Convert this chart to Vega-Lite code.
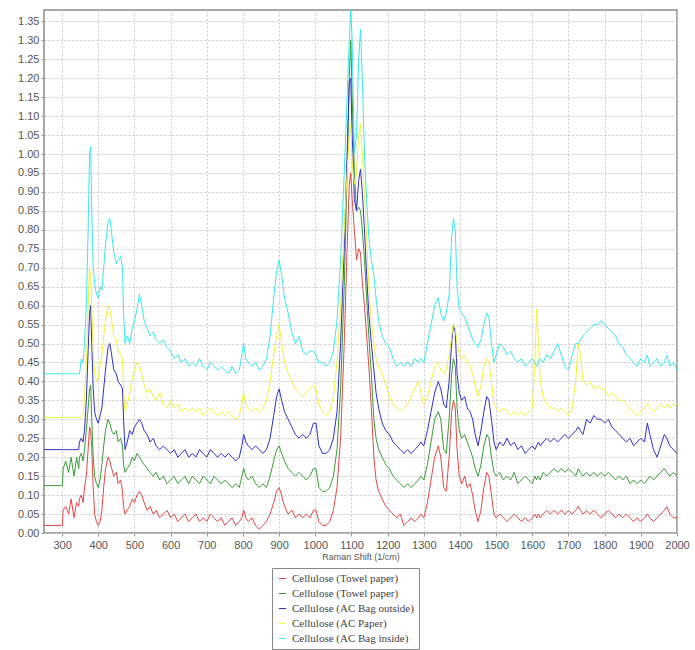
{
  "$schema": "https://vega.github.io/schema/vega-lite/v6.json",
  "width": 633,
  "height": 523,
  "padding": {"left": 17, "top": 10, "right": 10, "bottom": 0},
  "background": "white",
  "config": {
    "view": {"stroke": "#8a8a8a", "strokeWidth": 1.5},
    "axis": {"labelFont": "Liberation Sans", "labelFontSize": 11, "labelColor": "#555", "domain": false, "tickColor": "#999", "tickSize": 3, "gridColor": "#c8c8c8", "gridDash": [2, 2], "gridWidth": 1, "titleFont": "Liberation Sans", "titleFontWeight": "normal", "titleColor": "#555", "titleFontSize": 9}
  },
  "data": {"values": [
    {"x":250,"a":0.02,"b":0.125,"c":0.22,"d":0.305,"e":0.42},
    {"x":301,"a":0.02,"b":0.125,"c":0.22,"d":0.305,"e":0.42},
    {"x":303,"a":0.06,"b":0.17,"c":0.22,"d":0.305,"e":0.42},
    {"x":310,"a":0.07,"b":0.19,"c":0.22,"d":0.305,"e":0.42},
    {"x":318,"a":0.05,"b":0.16,"c":0.22,"d":0.305,"e":0.42},
    {"x":325,"a":0.09,"b":0.2,"c":0.22,"d":0.305,"e":0.42},
    {"x":333,"a":0.04,"b":0.15,"c":0.22,"d":0.305,"e":0.42},
    {"x":340,"a":0.08,"b":0.2,"c":0.22,"d":0.305,"e":0.42},
    {"x":346,"a":0.07,"b":0.17,"c":0.22,"d":0.305,"e":0.42},
    {"x":348,"a":0.09,"b":0.2,"c":0.24,"d":0.305,"e":0.42},
    {"x":353,"a":0.1,"b":0.21,"c":0.25,"d":0.305,"e":0.46},
    {"x":358,"a":0.08,"b":0.19,"c":0.24,"d":0.31,"e":0.45},
    {"x":362,"a":0.12,"b":0.22,"c":0.27,"d":0.36,"e":0.5},
    {"x":367,"a":0.15,"b":0.27,"c":0.35,"d":0.45,"e":0.6},
    {"x":372,"a":0.22,"b":0.33,"c":0.48,"d":0.6,"e":0.8},
    {"x":376,"a":0.28,"b":0.38,"c":0.58,"d":0.7,"e":1.0},
    {"x":379,"a":0.27,"b":0.39,"c":0.6,"d":0.68,"e":1.02},
    {"x":382,"a":0.22,"b":0.3,"c":0.5,"d":0.6,"e":0.85},
    {"x":386,"a":0.12,"b":0.2,"c":0.38,"d":0.48,"e":0.7},
    {"x":390,"a":0.05,"b":0.15,"c":0.32,"d":0.42,"e":0.66},
    {"x":395,"a":0.03,"b":0.13,"c":0.3,"d":0.4,"e":0.63},
    {"x":400,"a":0.02,"b":0.12,"c":0.29,"d":0.41,"e":0.62},
    {"x":405,"a":0.03,"b":0.14,"c":0.31,"d":0.44,"e":0.65},
    {"x":410,"a":0.06,"b":0.18,"c":0.33,"d":0.47,"e":0.64},
    {"x":415,"a":0.12,"b":0.23,"c":0.38,"d":0.52,"e":0.7},
    {"x":420,"a":0.17,"b":0.27,"c":0.43,"d":0.56,"e":0.76},
    {"x":427,"a":0.2,"b":0.3,"c":0.49,"d":0.6,"e":0.82},
    {"x":432,"a":0.19,"b":0.29,"c":0.5,"d":0.59,"e":0.83},
    {"x":437,"a":0.17,"b":0.27,"c":0.47,"d":0.56,"e":0.79},
    {"x":443,"a":0.15,"b":0.26,"c":0.43,"d":0.52,"e":0.74},
    {"x":450,"a":0.16,"b":0.27,"c":0.42,"d":0.51,"e":0.71},
    {"x":455,"a":0.13,"b":0.24,"c":0.4,"d":0.48,"e":0.72},
    {"x":462,"a":0.14,"b":0.25,"c":0.39,"d":0.47,"e":0.73},
    {"x":467,"a":0.11,"b":0.23,"c":0.38,"d":0.46,"e":0.7},
    {"x":470,"a":0.07,"b":0.18,"c":0.3,"d":0.38,"e":0.58},
    {"x":474,"a":0.05,"b":0.16,"c":0.22,"d":0.32,"e":0.5},
    {"x":480,"a":0.06,"b":0.17,"c":0.24,"d":0.34,"e":0.52},
    {"x":487,"a":0.07,"b":0.18,"c":0.27,"d":0.37,"e":0.5},
    {"x":494,"a":0.09,"b":0.2,"c":0.26,"d":0.41,"e":0.54},
    {"x":500,"a":0.08,"b":0.19,"c":0.28,"d":0.43,"e":0.56},
    {"x":507,"a":0.1,"b":0.21,"c":0.29,"d":0.45,"e":0.59},
    {"x":514,"a":0.11,"b":0.2,"c":0.3,"d":0.44,"e":0.63},
    {"x":520,"a":0.1,"b":0.19,"c":0.29,"d":0.42,"e":0.6},
    {"x":527,"a":0.08,"b":0.18,"c":0.27,"d":0.39,"e":0.56},
    {"x":535,"a":0.06,"b":0.17,"c":0.26,"d":0.37,"e":0.54},
    {"x":543,"a":0.07,"b":0.16,"c":0.24,"d":0.38,"e":0.52},
    {"x":552,"a":0.05,"b":0.15,"c":0.25,"d":0.36,"e":0.53},
    {"x":560,"a":0.06,"b":0.16,"c":0.23,"d":0.35,"e":0.51},
    {"x":570,"a":0.04,"b":0.14,"c":0.22,"d":0.37,"e":0.5},
    {"x":580,"a":0.05,"b":0.15,"c":0.23,"d":0.34,"e":0.51},
    {"x":590,"a":0.06,"b":0.13,"c":0.22,"d":0.33,"e":0.49},
    {"x":600,"a":0.04,"b":0.14,"c":0.21,"d":0.35,"e":0.48},
    {"x":610,"a":0.05,"b":0.15,"c":0.22,"d":0.33,"e":0.46},
    {"x":620,"a":0.03,"b":0.13,"c":0.2,"d":0.34,"e":0.47},
    {"x":630,"a":0.04,"b":0.14,"c":0.21,"d":0.32,"e":0.45},
    {"x":640,"a":0.05,"b":0.15,"c":0.22,"d":0.33,"e":0.46},
    {"x":650,"a":0.03,"b":0.13,"c":0.2,"d":0.32,"e":0.44},
    {"x":660,"a":0.04,"b":0.15,"c":0.21,"d":0.33,"e":0.45},
    {"x":670,"a":0.05,"b":0.14,"c":0.2,"d":0.32,"e":0.44},
    {"x":680,"a":0.03,"b":0.13,"c":0.22,"d":0.33,"e":0.46},
    {"x":690,"a":0.04,"b":0.15,"c":0.21,"d":0.31,"e":0.44},
    {"x":700,"a":0.03,"b":0.14,"c":0.2,"d":0.32,"e":0.43},
    {"x":710,"a":0.05,"b":0.13,"c":0.22,"d":0.33,"e":0.45},
    {"x":720,"a":0.04,"b":0.15,"c":0.21,"d":0.32,"e":0.44},
    {"x":730,"a":0.03,"b":0.14,"c":0.2,"d":0.31,"e":0.43},
    {"x":740,"a":0.04,"b":0.13,"c":0.21,"d":0.32,"e":0.44},
    {"x":750,"a":0.02,"b":0.14,"c":0.2,"d":0.31,"e":0.43},
    {"x":760,"a":0.03,"b":0.13,"c":0.21,"d":0.32,"e":0.42},
    {"x":770,"a":0.04,"b":0.12,"c":0.2,"d":0.31,"e":0.44},
    {"x":780,"a":0.02,"b":0.13,"c":0.19,"d":0.3,"e":0.42},
    {"x":790,"a":0.03,"b":0.12,"c":0.2,"d":0.31,"e":0.43},
    {"x":797,"a":0.04,"b":0.15,"c":0.23,"d":0.34,"e":0.47},
    {"x":802,"a":0.06,"b":0.17,"c":0.26,"d":0.37,"e":0.5},
    {"x":808,"a":0.04,"b":0.15,"c":0.24,"d":0.34,"e":0.46},
    {"x":815,"a":0.03,"b":0.14,"c":0.23,"d":0.33,"e":0.45},
    {"x":825,"a":0.04,"b":0.15,"c":0.22,"d":0.32,"e":0.44},
    {"x":835,"a":0.02,"b":0.13,"c":0.23,"d":0.33,"e":0.45},
    {"x":845,"a":0.01,"b":0.12,"c":0.22,"d":0.32,"e":0.43},
    {"x":855,"a":0.02,"b":0.13,"c":0.21,"d":0.33,"e":0.44},
    {"x":865,"a":0.03,"b":0.12,"c":0.22,"d":0.35,"e":0.46},
    {"x":875,"a":0.05,"b":0.15,"c":0.25,"d":0.4,"e":0.52},
    {"x":885,"a":0.08,"b":0.19,"c":0.31,"d":0.47,"e":0.62},
    {"x":893,"a":0.11,"b":0.22,"c":0.36,"d":0.52,"e":0.69},
    {"x":900,"a":0.12,"b":0.23,"c":0.38,"d":0.55,"e":0.72},
    {"x":907,"a":0.1,"b":0.21,"c":0.35,"d":0.5,"e":0.68},
    {"x":915,"a":0.07,"b":0.19,"c":0.32,"d":0.45,"e":0.62},
    {"x":925,"a":0.05,"b":0.17,"c":0.3,"d":0.42,"e":0.58},
    {"x":935,"a":0.06,"b":0.16,"c":0.28,"d":0.4,"e":0.53},
    {"x":945,"a":0.04,"b":0.15,"c":0.26,"d":0.38,"e":0.5},
    {"x":955,"a":0.05,"b":0.16,"c":0.25,"d":0.37,"e":0.52},
    {"x":965,"a":0.04,"b":0.15,"c":0.26,"d":0.36,"e":0.48},
    {"x":975,"a":0.05,"b":0.14,"c":0.25,"d":0.37,"e":0.47},
    {"x":985,"a":0.04,"b":0.15,"c":0.26,"d":0.38,"e":0.48},
    {"x":995,"a":0.06,"b":0.17,"c":0.29,"d":0.39,"e":0.48},
    {"x":1002,"a":0.06,"b":0.17,"c":0.29,"d":0.38,"e":0.47},
    {"x":1010,"a":0.03,"b":0.12,"c":0.23,"d":0.34,"e":0.45},
    {"x":1020,"a":0.02,"b":0.11,"c":0.21,"d":0.32,"e":0.45},
    {"x":1030,"a":0.02,"b":0.11,"c":0.21,"d":0.31,"e":0.44},
    {"x":1040,"a":0.03,"b":0.12,"c":0.22,"d":0.32,"e":0.45},
    {"x":1050,"a":0.06,"b":0.15,"c":0.25,"d":0.36,"e":0.48},
    {"x":1060,"a":0.12,"b":0.22,"c":0.32,"d":0.45,"e":0.56},
    {"x":1070,"a":0.25,"b":0.38,"c":0.5,"d":0.6,"e":0.72},
    {"x":1080,"a":0.5,"b":0.65,"c":0.75,"d":0.8,"e":0.95},
    {"x":1088,"a":0.75,"b":0.95,"c":1.0,"d":0.95,"e":1.15},
    {"x":1094,"a":0.92,"b":1.2,"c":1.19,"d":1.05,"e":1.3},
    {"x":1098,"a":0.95,"b":1.3,"c":1.2,"d":1.08,"e":1.38},
    {"x":1102,"a":0.88,"b":1.15,"c":1.05,"d":0.98,"e":1.3},
    {"x":1108,"a":0.8,"b":0.95,"c":0.88,"d":0.92,"e":1.0},
    {"x":1114,"a":0.72,"b":0.85,"c":0.85,"d":0.95,"e":1.05},
    {"x":1120,"a":0.75,"b":0.86,"c":0.93,"d":1.05,"e":1.25},
    {"x":1125,"a":0.74,"b":0.85,"c":0.96,"d":1.08,"e":1.33},
    {"x":1130,"a":0.66,"b":0.8,"c":0.9,"d":1.0,"e":1.2},
    {"x":1136,"a":0.6,"b":0.72,"c":0.8,"d":0.9,"e":1.0},
    {"x":1142,"a":0.52,"b":0.62,"c":0.68,"d":0.78,"e":0.88},
    {"x":1148,"a":0.44,"b":0.52,"c":0.58,"d":0.65,"e":0.78},
    {"x":1155,"a":0.33,"b":0.42,"c":0.5,"d":0.56,"e":0.72},
    {"x":1162,"a":0.2,"b":0.3,"c":0.43,"d":0.5,"e":0.68},
    {"x":1168,"a":0.14,"b":0.25,"c":0.37,"d":0.46,"e":0.62},
    {"x":1175,"a":0.11,"b":0.22,"c":0.33,"d":0.44,"e":0.56},
    {"x":1185,"a":0.09,"b":0.2,"c":0.29,"d":0.42,"e":0.52},
    {"x":1195,"a":0.07,"b":0.18,"c":0.27,"d":0.39,"e":0.5},
    {"x":1205,"a":0.06,"b":0.17,"c":0.26,"d":0.36,"e":0.49},
    {"x":1215,"a":0.05,"b":0.15,"c":0.24,"d":0.34,"e":0.46},
    {"x":1225,"a":0.04,"b":0.14,"c":0.23,"d":0.33,"e":0.44},
    {"x":1235,"a":0.05,"b":0.13,"c":0.22,"d":0.32,"e":0.45},
    {"x":1245,"a":0.02,"b":0.12,"c":0.21,"d":0.33,"e":0.44},
    {"x":1255,"a":0.03,"b":0.13,"c":0.22,"d":0.34,"e":0.45},
    {"x":1265,"a":0.04,"b":0.12,"c":0.21,"d":0.36,"e":0.44},
    {"x":1275,"a":0.03,"b":0.13,"c":0.22,"d":0.38,"e":0.46},
    {"x":1285,"a":0.04,"b":0.14,"c":0.23,"d":0.4,"e":0.45},
    {"x":1292,"a":0.05,"b":0.15,"c":0.24,"d":0.37,"e":0.46},
    {"x":1300,"a":0.04,"b":0.14,"c":0.23,"d":0.34,"e":0.45},
    {"x":1310,"a":0.08,"b":0.18,"c":0.27,"d":0.36,"e":0.5},
    {"x":1320,"a":0.14,"b":0.24,"c":0.32,"d":0.4,"e":0.55},
    {"x":1330,"a":0.2,"b":0.3,"c":0.37,"d":0.44,"e":0.6},
    {"x":1340,"a":0.23,"b":0.32,"c":0.4,"d":0.45,"e":0.62},
    {"x":1347,"a":0.2,"b":0.3,"c":0.38,"d":0.43,"e":0.58},
    {"x":1355,"a":0.12,"b":0.22,"c":0.34,"d":0.42,"e":0.56},
    {"x":1362,"a":0.11,"b":0.21,"c":0.33,"d":0.43,"e":0.58},
    {"x":1370,"a":0.2,"b":0.3,"c":0.4,"d":0.47,"e":0.63},
    {"x":1377,"a":0.32,"b":0.42,"c":0.5,"d":0.52,"e":0.78},
    {"x":1382,"a":0.35,"b":0.46,"c":0.55,"d":0.55,"e":0.83},
    {"x":1387,"a":0.33,"b":0.44,"c":0.53,"d":0.54,"e":0.8},
    {"x":1392,"a":0.22,"b":0.33,"c":0.42,"d":0.5,"e":0.65},
    {"x":1398,"a":0.15,"b":0.27,"c":0.37,"d":0.47,"e":0.59},
    {"x":1405,"a":0.13,"b":0.25,"c":0.35,"d":0.46,"e":0.58},
    {"x":1413,"a":0.15,"b":0.26,"c":0.36,"d":0.47,"e":0.57},
    {"x":1420,"a":0.12,"b":0.24,"c":0.33,"d":0.45,"e":0.55},
    {"x":1428,"a":0.13,"b":0.22,"c":0.32,"d":0.44,"e":0.53},
    {"x":1435,"a":0.1,"b":0.2,"c":0.3,"d":0.42,"e":0.51},
    {"x":1442,"a":0.06,"b":0.17,"c":0.26,"d":0.39,"e":0.5},
    {"x":1450,"a":0.03,"b":0.15,"c":0.23,"d":0.36,"e":0.49},
    {"x":1458,"a":0.06,"b":0.18,"c":0.27,"d":0.39,"e":0.51},
    {"x":1466,"a":0.12,"b":0.23,"c":0.32,"d":0.44,"e":0.55},
    {"x":1474,"a":0.16,"b":0.26,"c":0.36,"d":0.46,"e":0.58},
    {"x":1480,"a":0.15,"b":0.25,"c":0.35,"d":0.45,"e":0.57},
    {"x":1487,"a":0.1,"b":0.2,"c":0.3,"d":0.4,"e":0.5},
    {"x":1494,"a":0.05,"b":0.16,"c":0.24,"d":0.34,"e":0.45},
    {"x":1500,"a":0.04,"b":0.15,"c":0.22,"d":0.33,"e":0.47},
    {"x":1510,"a":0.05,"b":0.16,"c":0.24,"d":0.32,"e":0.5},
    {"x":1520,"a":0.04,"b":0.14,"c":0.23,"d":0.33,"e":0.49},
    {"x":1530,"a":0.03,"b":0.15,"c":0.25,"d":0.32,"e":0.47},
    {"x":1540,"a":0.04,"b":0.14,"c":0.23,"d":0.31,"e":0.48},
    {"x":1550,"a":0.05,"b":0.16,"c":0.24,"d":0.32,"e":0.46},
    {"x":1560,"a":0.04,"b":0.13,"c":0.22,"d":0.31,"e":0.45},
    {"x":1570,"a":0.03,"b":0.14,"c":0.23,"d":0.32,"e":0.46},
    {"x":1580,"a":0.04,"b":0.15,"c":0.21,"d":0.31,"e":0.44},
    {"x":1590,"a":0.03,"b":0.14,"c":0.22,"d":0.32,"e":0.45},
    {"x":1600,"a":0.04,"b":0.13,"c":0.23,"d":0.33,"e":0.46},
    {"x":1607,"a":0.05,"b":0.15,"c":0.22,"d":0.45,"e":0.45},
    {"x":1612,"a":0.04,"b":0.14,"c":0.23,"d":0.59,"e":0.44},
    {"x":1617,"a":0.05,"b":0.15,"c":0.24,"d":0.5,"e":0.45},
    {"x":1622,"a":0.04,"b":0.14,"c":0.23,"d":0.4,"e":0.46},
    {"x":1630,"a":0.05,"b":0.16,"c":0.24,"d":0.36,"e":0.45},
    {"x":1640,"a":0.06,"b":0.15,"c":0.25,"d":0.34,"e":0.47},
    {"x":1650,"a":0.05,"b":0.16,"c":0.24,"d":0.33,"e":0.46},
    {"x":1660,"a":0.06,"b":0.17,"c":0.25,"d":0.33,"e":0.48},
    {"x":1670,"a":0.05,"b":0.16,"c":0.24,"d":0.32,"e":0.5},
    {"x":1680,"a":0.06,"b":0.17,"c":0.25,"d":0.33,"e":0.47},
    {"x":1690,"a":0.05,"b":0.16,"c":0.26,"d":0.32,"e":0.44},
    {"x":1700,"a":0.06,"b":0.17,"c":0.25,"d":0.31,"e":0.43},
    {"x":1710,"a":0.05,"b":0.16,"c":0.26,"d":0.33,"e":0.47},
    {"x":1720,"a":0.06,"b":0.15,"c":0.27,"d":0.4,"e":0.5},
    {"x":1727,"a":0.07,"b":0.17,"c":0.28,"d":0.5,"e":0.5},
    {"x":1733,"a":0.06,"b":0.16,"c":0.27,"d":0.47,"e":0.51},
    {"x":1740,"a":0.05,"b":0.15,"c":0.26,"d":0.4,"e":0.52},
    {"x":1750,"a":0.06,"b":0.16,"c":0.3,"d":0.39,"e":0.53},
    {"x":1760,"a":0.05,"b":0.15,"c":0.29,"d":0.4,"e":0.54},
    {"x":1770,"a":0.06,"b":0.16,"c":0.31,"d":0.38,"e":0.55},
    {"x":1780,"a":0.05,"b":0.15,"c":0.3,"d":0.39,"e":0.55},
    {"x":1790,"a":0.04,"b":0.16,"c":0.3,"d":0.38,"e":0.56},
    {"x":1800,"a":0.05,"b":0.15,"c":0.29,"d":0.38,"e":0.55},
    {"x":1810,"a":0.06,"b":0.16,"c":0.3,"d":0.36,"e":0.54},
    {"x":1820,"a":0.05,"b":0.15,"c":0.28,"d":0.37,"e":0.53},
    {"x":1830,"a":0.04,"b":0.14,"c":0.27,"d":0.36,"e":0.52},
    {"x":1840,"a":0.05,"b":0.15,"c":0.26,"d":0.35,"e":0.5},
    {"x":1850,"a":0.04,"b":0.14,"c":0.25,"d":0.35,"e":0.49},
    {"x":1860,"a":0.05,"b":0.15,"c":0.24,"d":0.34,"e":0.47},
    {"x":1870,"a":0.04,"b":0.13,"c":0.25,"d":0.33,"e":0.46},
    {"x":1880,"a":0.03,"b":0.14,"c":0.23,"d":0.32,"e":0.45},
    {"x":1890,"a":0.04,"b":0.13,"c":0.24,"d":0.31,"e":0.44},
    {"x":1900,"a":0.03,"b":0.14,"c":0.25,"d":0.32,"e":0.46},
    {"x":1910,"a":0.04,"b":0.13,"c":0.24,"d":0.33,"e":0.45},
    {"x":1918,"a":0.05,"b":0.14,"c":0.29,"d":0.34,"e":0.47},
    {"x":1925,"a":0.04,"b":0.15,"c":0.26,"d":0.33,"e":0.44},
    {"x":1935,"a":0.03,"b":0.14,"c":0.22,"d":0.32,"e":0.45},
    {"x":1945,"a":0.04,"b":0.15,"c":0.2,"d":0.33,"e":0.46},
    {"x":1955,"a":0.05,"b":0.16,"c":0.23,"d":0.34,"e":0.44},
    {"x":1965,"a":0.06,"b":0.17,"c":0.26,"d":0.33,"e":0.45},
    {"x":1972,"a":0.07,"b":0.16,"c":0.25,"d":0.34,"e":0.47},
    {"x":1980,"a":0.05,"b":0.15,"c":0.23,"d":0.33,"e":0.44},
    {"x":1990,"a":0.04,"b":0.16,"c":0.22,"d":0.34,"e":0.45},
    {"x":2000,"a":0.04,"b":0.15,"c":0.21,"d":0.34,"e":0.43}
  ]},
  "transform": [{"fold": ["a", "b", "c", "d", "e"], "as": ["series", "value"]}],
  "mark": {"type": "line", "strokeWidth": 1, "clip": true},
  "encoding": {
    "x": {"field": "x", "type": "quantitative", "scale": {"domain": [250, 2000], "nice": false, "zero": false},
      "axis": {"values": [300,400,500,600,700,800,900,1000,1100,1200,1300,1400,1500,1600,1700,1800,1900,2000], "format": "d", "labelOverlap": false, "labelBound": false, "labelFlush": false, "title": "Raman Shift (1/cm)", "titlePadding": 2, "labelPadding": 3}},
    "y": {"field": "value", "type": "quantitative", "scale": {"domain": [0, 1.38], "nice": false},
      "axis": {"values": [0,0.05,0.1,0.15,0.2,0.25,0.3,0.35,0.4,0.45,0.5,0.55,0.6,0.65,0.7,0.75,0.8,0.85,0.9,0.95,1,1.05,1.1,1.15,1.2,1.25,1.3,1.35], "format": ".2f", "labelOverlap": false, "title": null, "labelPadding": 2}},
    "color": {"field": "series", "type": "nominal",
      "scale": {"domain": ["a", "b", "c", "d", "e"], "range": ["#e04848", "#3a9a3a", "#3030c8", "#f2f23a", "#3ae8ec"]},
      "legend": {"title": null, "orient": "none", "legendX": 228, "legendY": 558, "direction": "vertical",
        "labelExpr": "datum.label == 'a' || datum.label == 'b' ? 'Cellulose (Towel paper)' : datum.label == 'c' ? 'Cellulose (AC Bag outside)' : datum.label == 'd' ? 'Cellulose (AC Paper)' : 'Cellulose (AC Bag inside)'",
        "labelFont": "Liberation Serif", "labelFontSize": 11, "labelColor": "#444", "symbolType": "stroke", "symbolSize": 50, "symbolStrokeWidth": 1, "rowPadding": 3, "strokeColor": "#888", "padding": 5}
    }
  }
}
